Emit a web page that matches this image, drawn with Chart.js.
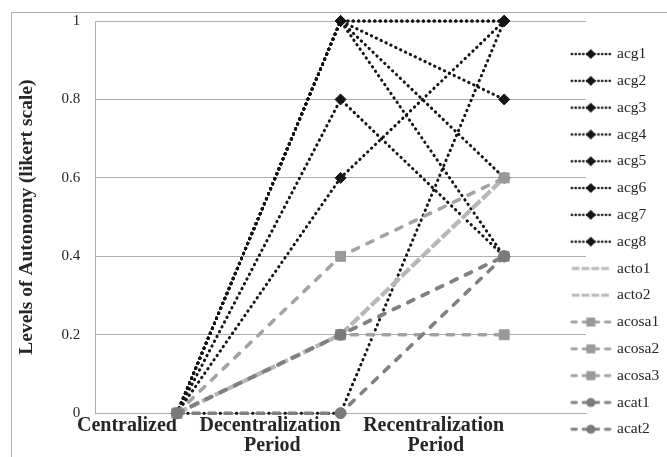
<!DOCTYPE html>
<html>
<head>
<meta charset="utf-8">
<script src="https://cdn.jsdelivr.net/npm/chart.js@4.4.0/dist/chart.umd.min.js"></script>
<style>
  html, body { margin: 0; padding: 0; background: #fff; overflow: hidden; }
  #frame { position: absolute; left: 11px; top: 12px; width: 720px; height: 520px; border: 1px solid #b0b0b0; }
  #wrap { position: absolute; left: 0; top: 0; width: 667px; height: 457px; }
</style>
</head>
<body>
<div id="frame"></div>
<div id="wrap"><canvas id="chart"></canvas></div>
<script>
// categories and tick labels
const periods = [['Centralized'], ['Decentralization', 'Period        '], ['Recentralization', 'Period        ']];
const yTicks = [0, 0.2, 0.4, 0.6, 0.8, 1];

// series values (Centralized, Decentralization, Recentralization)
const acg1 = [0, 1, 1];
const acg2 = [0, 1, 0.8];
const acg3 = [0, 1, 0.6];
const acg4 = [0, 1, 0.4];
const acg5 = [0, 0.8, 0.4];
const acg6 = [0, 0.6, 1];
const acg7 = [0, 0, 1];
const acg8 = [0, 1, 1];
const acto1 = [0, 0.2, 0.6];
const acto2 = [0, 0.2, 0.6];
const acosa1 = [0, 0.4, 0.6];
const acosa2 = [0, 0.2, 0.2];
const acosa3 = [0, 0.2, 0.4];
const acat1 = [0, 0.2, 0.4];
const acat2 = [0, 0, 0.4];

const serif = "'Liberation Serif', 'Times New Roman', serif";
const textColor = '#262626';
const gridColor = '#adadad';

// line styles per group
const dotted = { borderColor: '#141414', borderWidth: 3, borderDash: [0.4, 5], borderCapStyle: 'round',
  pointStyle: 'rectRot', pointRadius: 5.5, pointBackgroundColor: '#141414', pointBorderColor: '#141414', pointBorderWidth: 1 };
const doubleLine = { borderColor: '#b8b8b8', borderWidth: 4, borderDash: [11, 3], borderCapStyle: 'butt', pointRadius: 0 };
const squareDash = { borderColor: '#a3a3a3', borderWidth: 3.6, borderDash: [6.5, 9.5], borderCapStyle: 'round',
  pointStyle: 'rect', pointRadius: 7, pointBackgroundColor: '#999999', pointBorderColor: '#999999', pointBorderWidth: 1 };
const circleDash = { borderColor: '#808080', borderWidth: 3.6, borderDash: [6.5, 9.5], borderCapStyle: 'round',
  pointStyle: 'circle', pointRadius: 5.5, pointBackgroundColor: '#7a7a7a', pointBorderColor: '#7a7a7a', pointBorderWidth: 1 };

const series = [
  ['acg1', acg1, dotted], ['acg2', acg2, dotted], ['acg3', acg3, dotted], ['acg4', acg4, dotted],
  ['acg5', acg5, dotted], ['acg6', acg6, dotted], ['acg7', acg7, dotted], ['acg8', acg8, dotted],
  ['acto1', acto1, doubleLine], ['acto2', acto2, doubleLine],
  ['acosa1', acosa1, squareDash], ['acosa2', acosa2, squareDash], ['acosa3', acosa3, squareDash],
  ['acat1', acat1, circleDash], ['acat2', acat2, circleDash]
];

// small legend symbol: line piece with marker in the middle
function legendIcon(st) {
  const c = document.createElement('canvas');
  c.width = 42; c.height = 16;
  const g = c.getContext('2d');
  g.strokeStyle = st.borderColor;
  g.lineWidth = st.borderWidth * 0.8;
  g.lineCap = st.borderCapStyle;
  g.setLineDash(st.borderDash.map(v => v * 0.7));
  g.beginPath(); g.moveTo(2, 8); g.lineTo(40, 8); g.stroke();
  g.setLineDash([]);
  g.fillStyle = st.pointBackgroundColor;
  const cx = 21, cy = 8;
  g.beginPath();
  if (st.pointStyle === 'rectRot') {
    g.moveTo(cx, cy - 5); g.lineTo(cx + 5, cy); g.lineTo(cx, cy + 5); g.lineTo(cx - 5, cy); g.closePath(); g.fill();
  } else if (st.pointStyle === 'rect') {
    g.rect(cx - 4.5, cy - 4.5, 9, 9); g.fill();
  } else if (st.pointStyle === 'circle') {
    g.arc(cx, cy, 4.5, 0, Math.PI * 2); g.fill();
  }
  return c;
}

const icons = series.map(s => legendIcon(s[2]));

const datasets = series.map((s, i) => Object.assign({
  label: s[0], data: s[1], tension: 0, fill: false, clip: false, order: -i
}, s[2]));

// legend overlaps the plot's right end a little, like the original
const legendShift = {
  id: 'legendShift',
  afterLayout(chart) {
    const lg = chart.legend;
    lg.left -= 25;
    lg.top += 14; lg.bottom += 14;
  }
};

new Chart(document.getElementById('chart'), {
  type: 'line',
  data: { labels: periods, datasets: datasets },
  plugins: [legendShift],
  options: {
    responsive: true,
    maintainAspectRatio: false,
    animation: false,
    layout: { padding: { left: 15, top: 21, right: 0, bottom: -1 } },
    plugins: {
      tooltip: { enabled: false },
      legend: {
        position: 'right',
        align: 'start',
        maxWidth: 81,
        labels: {
          font: { family: serif, size: 15.5 },
          color: textColor,
          usePointStyle: true,
          pointStyleWidth: 37,
          padding: 11.3,
          generateLabels(chart) {
            const items = Chart.defaults.plugins.legend.labels.generateLabels(chart);
            items.sort((a, b) => a.datasetIndex - b.datasetIndex);
            items.forEach(it => { it.pointStyle = icons[it.datasetIndex]; });
            return items;
          }
        }
      }
    },
    scales: {
      x: {
        type: 'category',
        offset: true,
        grid: { display: false, drawTicks: false },
        border: { display: true, color: gridColor },
        afterFit(scale) { scale.paddingLeft = 0; scale.paddingRight = 0; },
        ticks: {
          align: 'end',
          maxRotation: 0,
          autoSkip: false,
          padding: 2,
          color: textColor,
          font: { family: serif, size: 20, weight: 'bold', lineHeight: 1.02 }
        }
      },
      y: {
        min: 0,
        max: 1,
        afterBuildTicks(scale) { scale.ticks = yTicks.map(v => ({ value: v })); },
        afterFit(scale) { scale.paddingTop = 0; scale.paddingBottom = 0; },
        grid: { color: gridColor, drawTicks: false },
        border: { display: true, color: gridColor },
        ticks: {
          padding: 15,
          color: textColor,
          font: { family: serif, size: 15 },
          callback: v => String(Math.round(v * 10) / 10)
        },
        title: {
          display: true,
          text: 'Levels of Autonomy (likert scale)',
          color: textColor,
          font: { family: serif, size: 19.5, weight: 'bold' },
          padding: { top: 0, bottom: 8 }
        }
      }
    }
  }
});
</script>
</body>
</html>
